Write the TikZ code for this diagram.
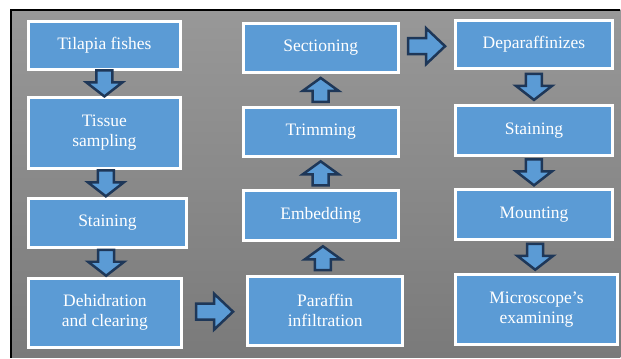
\documentclass[tikz,border=0pt]{standalone}
\usepackage{fontspec}
\setmainfont{Liberation Serif}
\usetikzlibrary{calc}
\definecolor{boxblue}{RGB}{91,155,213}
\definecolor{arrowline}{RGB}{30,55,88}
\definecolor{bgtop}{RGB}{152,152,152}
\definecolor{bgbottom}{RGB}{122,122,122}

\begin{document}
\begin{tikzpicture}[x=1pt,y=-1pt,
  stepbox/.style={draw=white, line width=3pt, fill=boxblue, text=white, align=center,
    font=\fontsize{17.5}{20}\selectfont, inner sep=0pt},
  pics/blockarrow/.style 2 args={code={
    \draw[fill=boxblue, draw=arrowline, line width=2.5pt, line join=miter]
      (-#1,-8) -- (#1-#2,-8) -- (#1-#2,-18) -- (#1,0) -- (#1-#2,18) -- (#1-#2,8) -- (-#1,8) -- cycle;}}]

\fill[white] (0,0) rectangle (621,358);
\shade[top color=bgtop, bottom color=bgbottom] (11,10) rectangle (621,358);
\draw[line width=1.2pt] (11,358) -- (11,10) -- (621,10);

% first column
\node[stepbox, minimum width=152pt, minimum height=48pt] (tilapia) at (104.5,45.5) {Tilapia fishes};
\node[stepbox, minimum width=152pt, minimum height=71pt] (tissue) at (104.5,133) {Tissue\\sampling};
\node[stepbox, minimum width=158pt, minimum height=49pt] (stainA) at (107.5,223) {Staining};
\node[stepbox, minimum width=153pt, minimum height=69pt] (dehid) at (105,313) {Dehidration\\and clearing};

% second column
\node[stepbox, minimum width=155pt, minimum height=69pt] (paraffin) at (325.5,311) {Paraffin\\infiltration};
\node[stepbox, minimum width=155pt, minimum height=50pt] (embed) at (321,215.5) {Embedding};
\node[stepbox, minimum width=155pt, minimum height=49pt] (trim) at (321,132) {Trimming};
\node[stepbox, minimum width=155pt, minimum height=49pt] (section) at (321,48) {Sectioning};

% third column
\node[stepbox, minimum width=158pt, minimum height=48pt] (deparaf) at (534.5,44.5) {Deparaffinizes};
\node[stepbox, minimum width=158pt, minimum height=50pt] (stainB) at (534.5,130.5) {Staining};
\node[stepbox, minimum width=158pt, minimum height=50pt] (mount) at (534.5,214.5) {Mounting};
\node[stepbox, minimum width=163pt, minimum height=70pt] (micro) at (537,309.5) {Microscope’s\\examining};

% arrows
\pic[rotate=-90] at ($(tilapia.south)!0.5!(tissue.north)$) {blockarrow={13}{14}};
\pic[rotate=-90] at ($(tissue.south)!0.5!(stainA.north)$) {blockarrow={13}{14}};
\pic[rotate=-90] at ($(stainA.south)!0.5!(dehid.north)$) {blockarrow={13}{14}};
\pic at ($(dehid.east)!0.5!(paraffin.west)$) {blockarrow={18.5}{19}};
\pic[rotate=90] at ($(paraffin.north)!0.5!(embed.south)$) {blockarrow={12}{13}};
\pic[rotate=90] at ($(embed.north)!0.5!(trim.south)$) {blockarrow={12}{13}};
\pic[rotate=90] at ($(trim.north)!0.5!(section.south)$) {blockarrow={12}{13}};
\pic at ($(section.east)!0.5!(deparaf.west)$) {blockarrow={18.5}{19}};
\pic[rotate=-90] at ($(deparaf.south)!0.5!(stainB.north)$) {blockarrow={13}{14}};
\pic[rotate=-90] at ($(stainB.south)!0.5!(mount.north)$) {blockarrow={13}{14}};
\pic[rotate=-90] at ($(mount.south)!0.5!(micro.north)$) {blockarrow={13}{14}};
\end{tikzpicture}
\end{document}
